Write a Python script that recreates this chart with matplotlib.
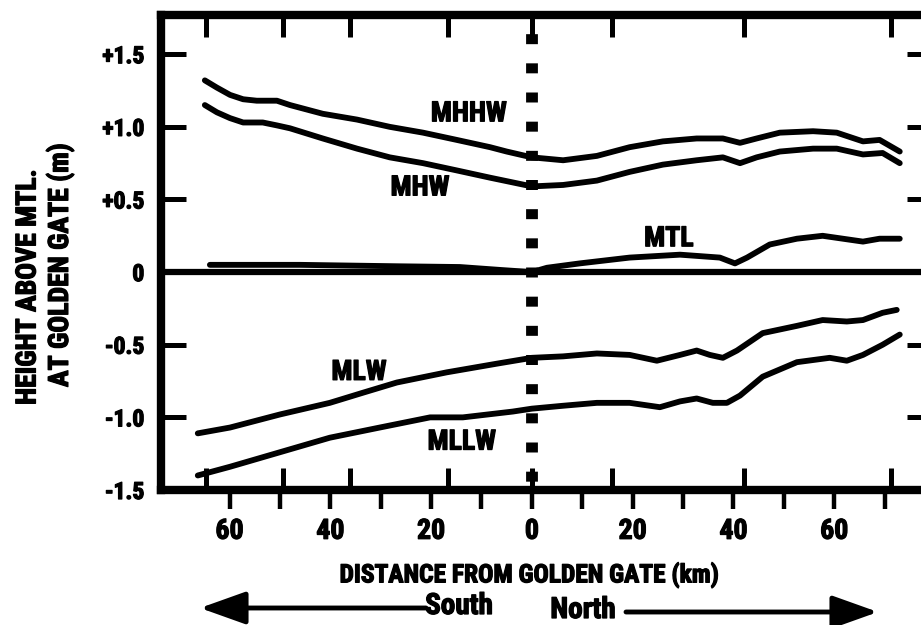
import matplotlib
matplotlib.use('Agg')
import matplotlib.pyplot as plt
import matplotlib.patheffects as pe

plt.rcParams['lines.scale_dashes'] = False
FONT = ['Roboto Condensed', 'DejaVu Sans']
plt.rcParams['font.family'] = FONT
plt.rcParams['font.weight'] = 'bold'
HEAVY = [pe.withStroke(linewidth=0.9, foreground='black')]

# ---- data: distance in km (negative = south, positive = north), height in m ----
mhhw_x = [-64.9, -62.5, -59.9, -57.3, -54.6, -50.6, -48.0, -41.5, -34.7, -28.2, -21.6, -14.9, -8.3, -5.0, 0.0,
          6.2, 12.9, 19.4, 26.0, 32.7, 37.9, 41.3, 44.6, 49.2, 55.8, 60.5, 63.1, 65.7, 69.0, 71.0, 73.0]
mhhw_y = [1.32, 1.27, 1.22, 1.19, 1.18, 1.18, 1.15, 1.09, 1.05, 1.00, 0.96, 0.91, 0.86, 0.83, 0.79,
          0.77, 0.80, 0.86, 0.90, 0.92, 0.92, 0.89, 0.92, 0.96, 0.97, 0.96, 0.93, 0.90, 0.91, 0.87, 0.83]

mhw_x = [-64.9, -62.5, -59.9, -57.3, -53.4, -50.6, -48.0, -41.5, -34.7, -28.2, -21.6, -14.9, -8.3, 0.0,
         6.2, 12.9, 19.4, 26.0, 32.7, 37.9, 41.3, 44.6, 49.2, 55.8, 60.5, 65.7, 69.6, 73.0]
mhw_y = [1.15, 1.10, 1.06, 1.03, 1.03, 1.01, 0.99, 0.92, 0.85, 0.79, 0.75, 0.70, 0.65, 0.59,
         0.60, 0.63, 0.69, 0.74, 0.77, 0.79, 0.75, 0.79, 0.83, 0.85, 0.85, 0.81, 0.82, 0.75]

mtl_x = [-63.9, -46.0, -26.2, -14.3, -6.3, 0.0, 3.0, 9.5, 19.4, 29.4, 37.3, 40.3, 42.7, 47.2, 52.6, 57.7,
         61.7, 65.7, 69.0, 73.0]
mtl_y = [0.05, 0.05, 0.04, 0.035, 0.015, 0.0, 0.03, 0.06, 0.10, 0.12, 0.10, 0.06, 0.10, 0.19, 0.23, 0.25,
         0.23, 0.21, 0.23, 0.23]

mlw_x = [-66.3, -59.9, -50.0, -40.1, -33.5, -26.8, -16.9, -6.9, 0.0, 6.2, 12.9, 19.4, 24.8, 29.4, 32.7, 35.3,
         37.9, 40.7, 45.8, 52.6, 57.7, 62.5, 65.7, 69.6, 72.4]
mlw_y = [-1.11, -1.07, -0.98, -0.90, -0.83, -0.76, -0.69, -0.63, -0.59, -0.58, -0.56, -0.57, -0.61, -0.57,
         -0.54, -0.57, -0.59, -0.54, -0.42, -0.37, -0.33, -0.34, -0.33, -0.28, -0.26]

mllw_x = [-66.3, -59.9, -50.0, -40.1, -30.2, -20.2, -13.7, -3.8, 0.0, 6.2, 12.9, 19.4, 25.4, 29.4, 32.7, 35.9,
          38.7, 41.3, 45.8, 52.6, 59.1, 62.5, 65.7, 69.6, 73.0]
mllw_y = [-1.40, -1.34, -1.24, -1.14, -1.07, -1.00, -1.00, -0.96, -0.94, -0.92, -0.90, -0.90, -0.93, -0.89,
          -0.87, -0.90, -0.90, -0.85, -0.72, -0.62, -0.59, -0.61, -0.57, -0.50, -0.43]

curve_names = ['MHHW', 'MHW', 'MTL', 'MLW', 'MLLW']
label_pos = [(-12.5, 1.09), (-22.2, 0.58), (27.2, 0.23), (-34.3, -0.69), (-13.9, -1.17)]

station_km = [-64.6, -49.4, -36.1, -16.7, 0.0, 15.9, 42.1, 71.3]
x_major = [-60, -50, -40, -30, -20, -10, 0, 10, 20, 30, 40, 50, 60, 70]
x_label_vals = [-60, -40, -20, 0, 20, 40, 60]
x_label_txt = ['60', '40', '20', '0', '20', '40', '60']
y_ticks = [-1.5, -1.0, -0.5, 0.0, 0.5, 1.0, 1.5]
y_tick_txt = ['-1.5', '-1.0', '-0.5', '0', '+0.5', '+1.0', '+1.5']

W, H = 921, 625
fig = plt.figure(figsize=(W / 100, H / 100), dpi=100)
ax = fig.add_axes([161 / W, (H - 490) / H, (932 - 161) / W, (490 - 15) / H])
ax.set_xlim(-73.6, 79.4)
ax.set_ylim(-1.5, 1.77)

for sp in ax.spines.values():
    sp.set_linewidth(6)
    sp.set_color('black')

series = [(mhhw_x, mhhw_y), (mhw_x, mhw_y), (mtl_x, mtl_y), (mlw_x, mlw_y), (mllw_x, mllw_y)]
for (xs, ys) in series:
    ax.plot(xs, ys, color='black', lw=4.2, solid_joinstyle='round', solid_capstyle='round')

ax.axhline(0, color='black', lw=4.5)

# Golden Gate dotted line
ax.plot([0, 0], [1.77, -1.5], color='black', lw=8.5, dash_capstyle='butt',
        linestyle=(7.2, (7.2, 13.8)))

for name, (lx, ly) in zip(curve_names, label_pos):
    ax.text(lx, ly, name, ha='center', va='center', fontsize=20, fontweight='bold', family=FONT,
            path_effects=HEAVY)

# y ticks
ax.set_yticks(y_ticks)
ax.set_yticklabels(y_tick_txt, fontsize=17, fontweight='bold', family=FONT)
ax.tick_params(axis='y', direction='in', length=18, width=3.6, left=True, right=True,
               labelleft=True, labelright=False, pad=12)
for i, t in enumerate(ax.yaxis.get_major_ticks()):
    if y_ticks[i] in (-1.5, 0.0):
        t.tick1line.set_visible(False)
        t.tick2line.set_visible(False)

# x ticks
ax.xaxis.remove_overlapping_locs = False
ax.set_xticks(x_major)
ax.set_xticklabels([x_label_txt[x_label_vals.index(v)] if v in x_label_vals else '' for v in x_major],
                   fontsize=20, fontweight='bold', family=FONT)
ax.set_xticks(station_km, minor=True)
ax.tick_params(axis='x', which='major', direction='out', length=14, width=3.2,
               bottom=True, top=False, pad=6)
ax.tick_params(axis='x', which='minor', direction='in', length=16, width=3.6,
               bottom=True, top=True)
for lab in ax.get_xticklabels() + ax.get_yticklabels():
    lab.set_path_effects(HEAVY)

# axis titles
fig.text(28 / W, 1 - 287 / H, 'HEIGHT ABOVE MTL.', rotation=90, ha='center', va='center',
         fontsize=20, fontweight='bold', family=FONT, path_effects=HEAVY)
fig.text(60 / W, 1 - 265 / H, 'AT GOLDEN GATE (m)', rotation=90, ha='center', va='center',
         fontsize=20, fontweight='bold', family=FONT, path_effects=HEAVY)
fig.text(529 / W, 1 - 575 / H, 'DISTANCE FROM GOLDEN GATE (km)', ha='center', va='center',
         fontsize=18.3, fontweight='bold', family=FONT, path_effects=HEAVY)
fig.text(459 / W, 1 - 606 / H, 'South', ha='center', va='center',
         fontsize=21, fontweight='bold', family=FONT, path_effects=HEAVY)
fig.text(583 / W, 1 - 610 / H, 'North', ha='center', va='center',
         fontsize=21, fontweight='bold', family=FONT, path_effects=HEAVY)

arrow_style = '-|>,head_length=2.8,head_width=1.0'
ax.annotate('', xy=(200 / W, 1 - 608 / H), xytext=(426 / W, 1 - 608 / H),
            xycoords='figure fraction', textcoords='figure fraction',
            arrowprops=dict(arrowstyle=arrow_style, color='black', lw=3.5,
                            mutation_scale=10, shrinkA=0, shrinkB=0))
ax.annotate('', xy=(878 / W, 1 - 612 / H), xytext=(626 / W, 1 - 612 / H),
            xycoords='figure fraction', textcoords='figure fraction',
            arrowprops=dict(arrowstyle=arrow_style, color='black', lw=3.5,
                            mutation_scale=10, shrinkA=0, shrinkB=0))

fig.savefig('out.png', dpi=100)
